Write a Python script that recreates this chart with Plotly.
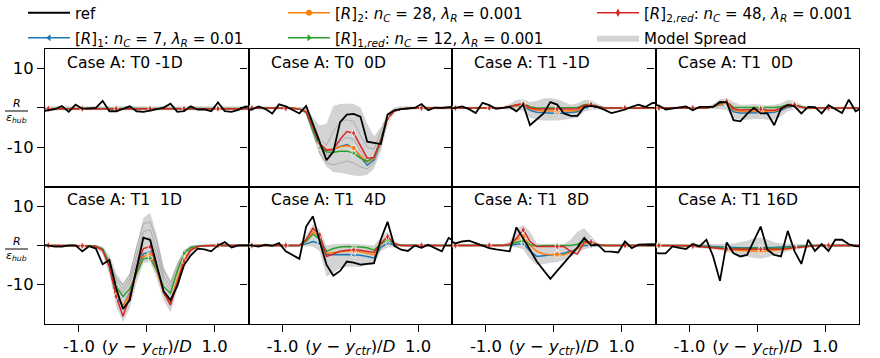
import plotly.graph_objects as go
from plotly.subplots import make_subplots

# ---------------- data ----------------
X = [-1.55, -1.45, -1.35, -1.25, -1.15, -1.05, -0.95, -0.85, -0.75, -0.65, -0.55, -0.45, -0.35, -0.25, -0.15, -0.05,
     0.05, 0.15, 0.25, 0.35, 0.45, 0.55, 0.65, 0.75, 0.85, 0.95, 1.05, 1.15, 1.25, 1.35, 1.45, 1.55]

TITLES = ["Case A: T0 -1D", "Case A: T0\u00a0\u00a00D", "Case A: T1 -1D", "Case A: T1\u00a0\u00a00D",
          "Case A: T1\u00a0\u00a01D", "Case A: T1\u00a0\u00a04D", "Case A: T1\u00a0\u00a08D", "Case A: T1 16D"]

X_TICKS = [-1.0, 0.0, 1.0]
X_TICKTEXT = ["-1.0", "(<i>y</i> \u2212 <i>y</i><sub><i>ctr</i></sub>)/<i>D</i>", "1.0"]
Y_TICKS = [-10, 0, 10]
Y_TICKTEXT = ["-10", "", "10"]

SERIES_NAMES = ["ref",
                "[<i>R</i>]<sub>1</sub>: <i>n<sub>C</sub></i> = 7, <i>\u03bb<sub>R</sub></i> = 0.01",
                "[<i>R</i>]<sub>2</sub>: <i>n<sub>C</sub></i> = 28, <i>\u03bb<sub>R</sub></i> = 0.001",
                "[<i>R</i>]<sub>1,<i>red</i></sub>: <i>n<sub>C</sub></i> = 12, <i>\u03bb<sub>R</sub></i> = 0.001",
                "[<i>R</i>]<sub>2,<i>red</i></sub>: <i>n<sub>C</sub></i> = 48, <i>\u03bb<sub>R</sub></i> = 0.001",
                "Model Spread"]

# Panel 1: T0 -1D
ref_1 = [-0.9, -0.6, -0.3, 0.5, -1.0, 0.85, -0.2, -0.1, 0.0, 1.8, -0.85, -0.85, -0.3, 0.4, -0.85, -1.0, -0.7, -0.3, 0.1, 1.1, -1.0, -0.8, 0.4, -0.4, -0.4, -0.85, 1.4, -0.8, -1.0, -0.5, 0.3, 0.5]
blue_1 = [-0.2, -0.2, -0.2, -0.2, -0.2, -0.2, -0.2, -0.2, -0.2, -0.2, -0.2, -0.2, -0.2, -0.2, -0.2, -0.2, -0.2, -0.2, -0.2, -0.2, -0.2, -0.2, -0.2, -0.2, -0.2, -0.2, -0.2, -0.2, -0.2, -0.2, -0.2, -0.2]
orange_1 = [-0.2, -0.2, -0.2, -0.2, -0.2, -0.2, -0.2, -0.2, -0.2, -0.2, -0.2, -0.2, -0.2, -0.2, -0.2, -0.2, -0.2, -0.2, -0.2, -0.2, -0.2, -0.2, -0.2, -0.2, -0.2, -0.2, -0.2, -0.2, -0.2, -0.2, -0.2, -0.2]
green_1 = [-0.15, -0.15, -0.15, -0.15, -0.15, -0.15, -0.15, -0.15, -0.15, -0.15, -0.15, -0.15, -0.15, -0.15, -0.15, -0.15, -0.15, -0.15, -0.15, -0.15, -0.15, -0.15, -0.15, -0.15, -0.15, -0.15, -0.15, -0.15, -0.15, -0.15, -0.15, -0.15]
red_1 = [-0.2, -0.2, -0.2, -0.2, -0.2, -0.2, -0.2, -0.2, -0.2, -0.2, -0.2, -0.2, -0.2, -0.2, -0.2, -0.2, -0.2, -0.2, -0.2, -0.2, -0.2, -0.2, -0.2, -0.2, -0.2, -0.2, -0.2, -0.2, -0.2, -0.2, -0.2, -0.2]
hi_1 = [0.4, 0.4, 0.4, 0.4, 0.4, 0.4, 0.4, 0.4, 0.4, 0.4, 0.4, 0.4, 0.4, 0.4, 0.4, 0.4, 0.4, 0.4, 0.4, 0.4, 0.4, 0.4, 0.4, 0.4, 0.4, 0.4, 0.4, 0.4, 0.4, 0.4, 0.4, 0.4]
lo_1 = [-0.6, -0.6, -0.6, -0.6, -0.6, -0.6, -0.6, -0.6, -0.6, -0.6, -0.6, -0.6, -0.6, -0.6, -0.6, -0.6, -0.6, -0.6, -0.6, -0.6, -0.6, -0.6, -0.6, -0.6, -0.6, -0.6, -0.6, -0.6, -0.6, -0.6, -0.6, -0.6]

# Panel 2: T0 0D
ref_2 = [-0.5, -0.4, 0.4, -0.3, -1.4, 0.9, 0.4, -0.6, -1.4, 0.5, -4.1, -8.7, -13.3, -11.2, -3.6, -1.7, -1.5, -2.2, -8.6, -8.9, -9.2, -1.7, -0.6, -0.3, -0.2, 0.0, 1.0, -0.6, 0.1, 0.0, 0.2, 0.3]
blue_2 = [0.0, 0.0, 0.0, 0.0, 0.0, 0.0, -0.1, -0.1, -0.3, -1.0, -5.5, -9.6, -10.8, -10.6, -9.8, -9.3, -10.3, -12.5, -14.6, -13.2, -8.5, -2.5, -0.8, -0.3, -0.1, 0.0, 0.0, 0.0, 0.0, 0.0, 0.0, 0.0]
orange_2 = [0.0, 0.0, 0.0, 0.0, 0.0, 0.0, -0.1, -0.1, -0.3, -1.0, -5.3, -9.4, -10.6, -10.5, -9.9, -9.6, -10.2, -12.2, -13.8, -12.8, -8.3, -2.6, -0.8, -0.3, -0.1, 0.0, 0.0, 0.0, 0.0, 0.0, 0.0, 0.0]
green_2 = [0.0, 0.0, 0.0, 0.0, 0.0, 0.0, -0.1, -0.1, -0.3, -1.1, -5.8, -10.0, -11.2, -11.3, -11.0, -11.0, -11.5, -12.8, -13.6, -12.5, -8.0, -2.4, -0.7, -0.3, -0.1, 0.0, 0.0, 0.0, 0.0, 0.0, 0.0, 0.0]
red_2 = [0.0, 0.0, 0.0, 0.0, 0.0, 0.0, -0.1, -0.1, -0.3, -1.0, -5.0, -9.0, -10.8, -10.5, -8.0, -6.0, -6.4, -9.5, -12.8, -12.6, -8.3, -2.7, -0.8, -0.3, -0.1, 0.0, 0.0, 0.0, 0.0, 0.0, 0.0, 0.0]
hi_2 = [0.4, 0.4, 0.4, 0.4, 0.4, 0.4, 0.4, 0.4, 0.3, 0.0, -2.5, -4.5, -4.0, 0.5, 1.0, 1.1, 1.0, 0.2, -4.0, -7.2, -5.0, -1.3, 0.2, 0.4, 0.4, 0.4, 0.4, 0.4, 0.4, 0.4, 0.4, 0.4]
lo_2 = [-0.4, -0.4, -0.4, -0.4, -0.4, -0.4, -0.4, -0.4, -0.4, -1.8, -7.0, -12.0, -15.0, -16.3, -16.5, -16.8, -17.2, -17.3, -17.0, -15.5, -11.0, -4.5, -1.2, -0.4, -0.4, -0.4, -0.4, -0.4, -0.4, -0.4, -0.4, -0.4]
mem_2a = [0, 0, 0, 0, 0, 0, 0, -0.1, -0.2, -0.8, -4.5, -8.0, -9.5, -6.0, -3.5, -3.0, -3.5, -7.0, -10.0, -10.5, -6.0, -2.0, -0.5, -0.2, 0, 0, 0, 0, 0, 0, 0, 0]
mem_2b = [0, 0, 0, 0, 0, 0, 0, -0.1, -0.2, -1.0, -5.5, -10.0, -12.0, -11.5, -8.5, -7.5, -8.0, -11.0, -13.5, -12.5, -8.0, -2.5, -0.6, -0.2, 0, 0, 0, 0, 0, 0, 0, 0]
mem_2c = [0, 0, 0, 0, 0, 0, 0, -0.1, -0.2, -1.2, -6.5, -11.5, -14.0, -14.5, -14.0, -13.5, -14.0, -15.0, -15.5, -14.0, -9.5, -3.0, -0.8, -0.2, 0, 0, 0, 0, 0, 0, 0, 0]

# Panel 3: T1 -1D
ref_3 = [-0.1, 0.0, 0.4, -0.3, -1.3, 1.3, 0.7, -0.2, 0.0, 0.25, -0.85, 0.85, -4.4, -2.8, -1.4, 1.5, 0.85, -1.4, -2.0, -2.0, 0.25, 0.5, 0.2, -0.5, -1.3, -0.9, -0.4, 0.3, 0.85, 0.25, 1.2, 1.4]
blue_3 = [0, 0, 0, 0, 0, 0, 0, 0, 0, 0.2, 0.5, 0.6, -0.6, -1.1, -1.2, -1.3, -1.4, -1.3, -1.2, -1.0, 0.0, 0.3, 0.2, 0, 0, 0, 0, 0, 0, 0, 0, 0]
orange_3 = [0, 0, 0, 0, 0, 0, 0, 0, 0, 0.3, 0.6, 0.8, -0.2, -0.6, -0.8, -0.8, -0.9, -0.8, -0.8, -0.6, 0.3, 0.6, 0.3, 0, 0, 0, 0, 0, 0, 0, 0, 0]
green_3 = [0, 0, 0, 0, 0, 0, 0, 0, 0, 0.4, 0.8, 1.1, 0.3, 0.0, 0.0, 0.0, 0.1, 0.0, 0.0, 0.1, 0.8, 1.0, 0.4, 0, 0, 0, 0, 0, 0, 0, 0, 0]
red_3 = [0, 0, 0, 0, 0, 0, 0, 0, 0, 0.4, 0.8, 1.0, 0.0, -0.3, -0.3, -0.4, -0.3, -0.4, -0.3, -0.2, 0.7, 0.9, 0.3, 0, 0, 0, 0, 0, 0, 0, 0, 0]
hi_3 = [0.3, 0.3, 0.3, 0.3, 0.3, 0.3, 0.3, 0.3, 0.3, 1.0, 2.0, 2.2, 1.5, 1.8, 2.4, 2.5, 2.2, 1.5, 0.8, 1.2, 2.0, 2.0, 1.0, 0.3, 0.3, 0.3, 0.3, 0.3, 0.3, 0.3, 0.3, 0.3]
lo_3 = [-0.3, -0.3, -0.3, -0.3, -0.3, -0.3, -0.3, -0.3, -0.3, -0.5, -0.4, -0.8, -2.5, -3.0, -3.2, -3.2, -3.2, -3.0, -2.8, -2.5, -1.0, -0.5, -0.4, -0.3, -0.3, -0.3, -0.3, -0.3, -0.3, -0.3, -0.3, -0.3]

# Panel 4: T1 0D
ref_4 = [0.9, 0.6, -0.4, -0.1, 0.2, 0.4, -0.6, 0.25, 0.25, 0.25, 1.5, 1.4, -3.1, -3.4, -1.5, 0.0, -1.4, -1.4, -4.4, -0.2, 0.7, 0.4, -1.4, 0.25, 0.2, -1.4, 0.7, -0.3, -1.3, 2.1, -0.85, 0.0]
blue_4 = [0, 0, 0, 0, 0, 0, 0, 0, 0, 0.3, 0.8, 0.9, -1.0, -1.3, -1.3, -1.2, -1.2, -1.2, -1.1, -0.6, 0.2, 0.5, 0.2, 0, 0, 0, 0, 0, 0, 0, 0, 0]
orange_4 = [0, 0, 0, 0, 0, 0, 0, 0, 0, 0.3, 0.9, 1.2, -0.5, -0.9, -0.9, -0.8, -0.8, -0.9, -0.8, -0.3, 0.4, 0.6, 0.2, 0, 0, 0, 0, 0, 0, 0, 0, 0]
green_4 = [0, 0, 0, 0, 0, 0, 0, 0, 0, 0.4, 1.2, 1.5, 0.2, 0.1, 0.1, 0.2, 0.2, 0.1, 0.1, 0.3, 0.9, 0.9, 0.3, 0, 0, 0, 0, 0, 0, 0, 0, 0]
red_4 = [0, 0, 0, 0, 0, 0, 0, 0, 0, 0.4, 1.3, 1.7, -0.2, -0.5, -0.5, -0.4, -0.3, -0.6, -0.6, -0.1, 0.8, 0.8, 0.2, 0, 0, 0, 0, 0, 0, 0, 0, 0]
hi_4 = [0.3, 0.3, 0.3, 0.3, 0.3, 0.3, 0.3, 0.3, 0.3, 1.0, 2.2, 2.5, 1.5, 0.8, 0.8, 1.0, 0.8, 0.6, 0.8, 1.2, 2.0, 1.8, 0.8, 0.3, 0.3, 0.3, 0.3, 0.3, 0.3, 0.3, 0.3, 0.3]
lo_4 = [-0.3, -0.3, -0.3, -0.3, -0.3, -0.3, -0.3, -0.3, -0.3, -0.3, -0.3, -0.5, -2.6, -3.0, -3.0, -2.8, -2.8, -3.0, -3.0, -2.2, -0.8, -0.4, -0.3, -0.3, -0.3, -0.3, -0.3, -0.3, -0.3, -0.3, -0.3, -0.3]

# Panel 5: T1 1D
ref_5 = [0.2, 0.0, -0.3, -0.3, 0.0, 0.0, -1.5, -0.2, -0.8, -4.8, -3.7, -11.0, -16.2, -13.9, -6.0, 2.0, 1.4, -5.1, -11.7, -13.9, -10.3, -5.0, -2.5, -0.8, -1.0, -1.5, 0.0, 0.85, -0.5, 0.0, 0.0, 0.0]
blue_5 = [0, 0, 0, 0, 0, 0, -0.1, -0.2, -0.3, -1.2, -5.5, -12.8, -15.5, -12.0, -6.5, -2.2, -1.6, -6.0, -12.0, -14.8, -9.0, -3.5, -1.0, -0.3, -0.1, 0, 0, 0, 0, 0, 0, 0]
orange_5 = [0, 0, 0, 0, 0, 0, -0.1, -0.2, -0.3, -1.1, -5.0, -12.0, -15.5, -12.3, -7.0, -2.8, -2.4, -6.5, -12.0, -14.5, -8.5, -3.5, -1.0, -0.3, -0.1, 0, 0, 0, 0, 0, 0, 0]
green_5 = [0, 0, 0, 0, 0, 0, -0.1, -0.1, -0.2, -0.9, -4.5, -10.5, -13.0, -11.0, -7.2, -3.4, -3.2, -6.5, -10.5, -12.2, -6.5, -2.0, -0.5, -0.2, -0.1, 0, 0, 0, 0, 0, 0, 0]
red_5 = [0, 0, 0, 0, 0, 0, -0.1, -0.2, -0.3, -1.2, -5.5, -13.0, -18.0, -13.0, -5.5, -0.8, -0.3, -5.5, -12.0, -15.2, -9.5, -4.0, -1.2, -0.3, -0.1, 0, 0, 0, 0, 0, 0, 0]
hi_5 = [0.3, 0.3, 0.3, 0.3, 0.3, 0.3, 0.3, 0.3, 0.2, -0.3, -2.5, -7.0, -9.6, -7.0, 0.0, 7.0, 8.3, 2.5, -5.5, -8.8, -4.5, -1.2, 0.0, 0.2, 0.3, 0.3, 0.3, 0.3, 0.3, 0.3, 0.3, 0.3]
lo_5 = [-0.3, -0.3, -0.3, -0.3, -0.3, -0.3, -0.3, -0.3, -0.6, -2.2, -7.5, -15.5, -19.5, -16.0, -9.5, -4.5, -4.2, -8.5, -14.0, -17.0, -11.5, -5.5, -2.0, -0.6, -0.3, -0.3, -0.3, -0.3, -0.3, -0.3, -0.3, -0.3]
mem_5a = [0, 0, 0, 0, 0, 0, 0, -0.1, -0.2, -0.8, -4.0, -8.5, -10.0, -7.5, -0.5, 5.5, 6.0, 1.0, -6.5, -9.5, -5.0, -1.5, -0.3, -0.1, 0, 0, 0, 0, 0, 0, 0, 0]
mem_5b = [0, 0, 0, 0, 0, 0, 0, -0.1, -0.2, -0.9, -4.3, -9.0, -11.0, -8.5, -2.5, 3.5, 4.0, -1.0, -8.0, -10.5, -6.0, -1.8, -0.4, -0.1, 0, 0, 0, 0, 0, 0, 0, 0]
mem_5c = [0, 0, 0, 0, 0, 0, 0, -0.1, -0.2, -1.0, -4.6, -9.8, -12.0, -9.5, -4.0, 1.5, 2.0, -2.5, -9.0, -11.5, -7.0, -2.2, -0.5, -0.1, 0, 0, 0, 0, 0, 0, 0, 0]

# Panel 6: T1 4D
ref_6 = [0.0, 0.0, -0.3, 0.2, -0.1, 0.6, -1.5, -2.5, -3.4, 4.8, 7.4, 1.0, -4.9, -7.7, -6.5, -4.1, -4.4, -4.9, -4.7, -4.5, 1.5, 6.0, -0.1, -1.1, -1.4, 0.0, -0.6, 0.2, -0.7, -1.5, 1.9, 1.0]
blue_6 = [0, 0, 0, 0, 0, 0, 0, 0, 0, 0.4, 1.0, 0.5, -2.4, -2.4, -2.3, -2.3, -2.4, -2.5, -2.8, -3.2, -0.5, 0.6, 0.1, 0, 0, 0, 0, 0, 0, 0, 0, 0]
orange_6 = [0, 0, 0, 0, 0, 0, 0, 0, 0, 1.2, 3.6, 2.0, -2.0, -1.8, -1.6, -1.5, -1.5, -1.6, -2.0, -2.4, 0.2, 1.7, 0.3, 0, 0, 0, 0, 0, 0, 0, 0, 0]
green_6 = [0, 0, 0, 0, 0, 0, 0, 0, 0, 1.0, 2.9, 1.5, -1.5, -0.8, -0.4, -0.3, -0.3, -0.4, -0.6, -1.2, 0.4, 1.4, 0.4, 0, 0, 0, 0, 0, 0, 0, 0, 0]
red_6 = [0, 0, 0, 0, 0, 0, 0, 0, 0, 1.5, 4.4, 2.7, -2.8, -2.2, -1.5, -1.2, -1.1, -1.2, -1.5, -1.8, 0.5, 2.3, 0.5, 0, 0, 0, 0, 0, 0, 0, 0, 0]
hi_6 = [0.3, 0.3, 0.3, 0.3, 0.3, 0.3, 0.3, 0.3, 0.3, 2.5, 5.3, 4.0, 0.0, 0.3, 0.4, 0.4, 0.4, 0.3, 0.2, 0.0, 2.0, 3.6, 1.2, 0.3, 0.3, 0.3, 0.3, 0.3, 0.3, 0.3, 0.3, 0.3]
lo_6 = [-0.3, -0.3, -0.3, -0.3, -0.3, -0.3, -0.3, -0.3, -0.3, -0.2, -0.3, -1.5, -7.9, -7.0, -5.8, -5.4, -5.4, -5.5, -5.0, -4.9, -1.5, -0.5, -0.3, -0.3, -0.3, -0.3, -0.3, -0.3, -0.3, -0.3, -0.3, -0.3]

# Panel 7: T1 8D
ref_7 = [1.5, 0.5, 1.0, 1.2, 0.6, 0.0, -0.7, -1.0, -1.3, -1.5, 4.6, 1.9, -1.1, -4.1, -6.3, -8.5, -6.5, -4.5, -2.5, -0.5, 1.9, 0.0, 0.2, -1.5, -1.6, -1.8, 1.0, -0.7, 0.2, 0.3, 0.3, 0.2]
blue_7 = [0, 0, 0, 0, 0, 0, 0, 0, 0, 0.0, 0.3, 0.5, -1.5, -2.8, -2.6, -2.4, -2.2, -2.0, -1.5, -0.8, 0.0, 0.0, 0.0, 0, 0, 0, 0, 0, 0, 0, 0, 0]
orange_7 = [0, 0, 0, 0, 0, 0, 0, 0, 0, 0.2, 1.5, 2.3, 0.0, -1.5, -2.2, -2.4, -2.3, -2.4, -1.8, -0.8, 0.5, 0.5, 0.1, 0, 0, 0, 0, 0, 0, 0, 0, 0]
green_7 = [0, 0, 0, 0, 0, 0, 0, 0, 0, 0.1, 0.8, 1.2, 0.2, -0.2, 0.0, 0.0, 0.0, 0.0, 0.0, 0.3, 1.2, 0.6, 0.1, 0, 0, 0, 0, 0, 0, 0, 0, 0]
red_7 = [0, 0, 0, 0, 0, 0, 0, 0, 0, 0.3, 1.8, 4.0, 1.0, -0.3, -0.3, -0.3, -0.3, -0.3, -1.5, -2.2, 0.9, 1.0, 0.2, 0, 0, 0, 0, 0, 0, 0, 0, 0]
hi_7 = [0.3, 0.3, 0.3, 0.3, 0.3, 0.3, 0.3, 0.3, 0.3, 1.0, 4.0, 5.3, 3.5, 0.5, 0.3, 0.3, 0.3, 0.3, 1.5, 3.5, 4.4, 2.5, 0.5, 0.3, 0.3, 0.3, 0.3, 0.3, 0.3, 0.3, 0.3, 0.3]
lo_7 = [-0.3, -0.3, -0.3, -0.3, -0.3, -0.3, -0.3, -0.3, -0.3, -0.3, -0.5, -1.0, -3.5, -5.0, -4.8, -4.5, -4.2, -3.8, -3.0, -2.0, -1.0, -0.5, -0.3, -0.3, -0.3, -0.3, -0.3, -0.3, -0.3, -0.3, -0.3, -0.3]

# Panel 8: T1 16D
ref_8 = [-1.8, -2.0, -2.0, -0.25, -0.6, -0.9, 0.35, -0.25, 1.45, -2.8, -9.0, 0.75, -2.0, -2.8, -2.4, 1.2, 4.8, -1.1, -2.4, -2.8, 3.7, -1.5, -4.7, 1.45, -1.4, 0.35, -1.4, 1.45, 1.45, 0.3, -0.2, -0.3]
blue_8 = [0, 0, 0, 0, 0, 0, 0.0, -0.1, -0.2, -0.3, -0.4, -0.5, -0.6, -0.6, -0.6, -0.6, -0.6, -0.6, -0.5, -0.4, -0.3, -0.2, -0.1, 0, 0, 0, 0, 0, 0, 0, 0, 0]
orange_8 = [0, 0, 0, 0, 0, 0, 0, -0.2, -0.4, -0.6, -0.9, -1.1, -1.2, -1.3, -1.4, -1.5, -1.5, -1.4, -1.3, -1.1, -0.9, -0.6, -0.4, -0.2, 0, 0, 0, 0, 0, 0, 0, 0]
green_8 = [0, 0, 0, 0, 0, 0, 0, -0.1, -0.3, -0.5, -0.7, -0.8, -0.8, -0.8, -0.8, -0.8, -0.8, -0.8, -0.8, -0.7, -0.6, -0.4, -0.2, -0.1, 0, 0, 0, 0, 0, 0, 0, 0]
red_8 = [0, 0, 0, 0, 0, -0.1, -0.2, -0.3, -0.4, -0.6, -0.8, -0.9, -1.0, -1.0, -1.0, -1.0, -1.0, -1.0, -1.0, -0.9, -0.8, -0.6, -0.4, -0.2, -0.1, 0, 0, 0, 0, 0, 0, 0]
hi_8 = [0.3, 0.3, 0.3, 0.3, 0.3, 0.3, 0.3, 0.3, 0.3, 0.3, 0.3, 0.4, 0.5, 0.8, 1.2, 1.8, 2.0, 1.5, 0.8, 0.5, 0.4, 0.3, 0.3, 0.3, 0.3, 0.3, 0.3, 0.3, 0.3, 0.3, 0.3, 0.3]
lo_8 = [-0.3, -0.3, -0.3, -0.3, -0.3, -0.4, -0.5, -0.6, -0.8, -1.0, -1.2, -1.5, -2.0, -2.4, -2.8, -3.2, -3.3, -3.0, -2.5, -2.0, -1.5, -1.1, -0.8, -0.6, -0.4, -0.3, -0.3, -0.3, -0.3, -0.3, -0.3, -0.3]

# ---------------- assembly ----------------
PANELS = [
    dict(ref=ref_1, models=[blue_1, orange_1, green_1, red_1], hi=hi_1, lo=lo_1, members=[]),
    dict(ref=ref_2, models=[blue_2, orange_2, green_2, red_2], hi=hi_2, lo=lo_2, members=[mem_2a, mem_2b, mem_2c]),
    dict(ref=ref_3, models=[blue_3, orange_3, green_3, red_3], hi=hi_3, lo=lo_3, members=[]),
    dict(ref=ref_4, models=[blue_4, orange_4, green_4, red_4], hi=hi_4, lo=lo_4, members=[]),
    dict(ref=ref_5, models=[blue_5, orange_5, green_5, red_5], hi=hi_5, lo=lo_5, members=[mem_5a, mem_5b, mem_5c]),
    dict(ref=ref_6, models=[blue_6, orange_6, green_6, red_6], hi=hi_6, lo=lo_6, members=[]),
    dict(ref=ref_7, models=[blue_7, orange_7, green_7, red_7], hi=hi_7, lo=lo_7, members=[]),
    dict(ref=ref_8, models=[blue_8, orange_8, green_8, red_8], hi=hi_8, lo=lo_8, members=[]),
]
for p in PANELS:
    for arr in [p["ref"], p["hi"], p["lo"]] + p["models"] + p["members"]:
        assert len(arr) == len(X), len(arr)

MODEL_COLORS = ["#1f77b4", "#ff7f0e", "#2ca02c", "#d62728"]
MODEL_SYMBOLS = ["triangle-left", "circle", "triangle-right", "diamond-tall"]
FONT = "DejaVu Sans"

marker_sizes = [6 if i % 5 == 1 else 0 for i in range(len(X))]

fig = make_subplots(rows=2, cols=4, horizontal_spacing=0, vertical_spacing=0)

for k, p in enumerate(PANELS):
    r, c = k // 4 + 1, k % 4 + 1
    fig.add_trace(go.Scatter(
        x=X + X[::-1], y=p["hi"] + p["lo"][::-1], fill="toself", fillcolor="#d3d3d3",
        line=dict(width=0, color="#d3d3d3"), mode="lines", name=SERIES_NAMES[5],
        showlegend=(k == 0), legend="legend6", hoverinfo="skip"), row=r, col=c)
    for m in p["members"]:
        fig.add_trace(go.Scatter(x=X, y=m, mode="lines", line=dict(color="rgba(140,140,140,0.55)", width=1),
                                 showlegend=False, hoverinfo="skip"), row=r, col=c)
    for j, m in enumerate(p["models"]):
        fig.add_trace(go.Scatter(
            x=X, y=m, mode="lines+markers",
            line=dict(color=MODEL_COLORS[j], width=1.5),
            marker=dict(symbol=MODEL_SYMBOLS[j], size=marker_sizes, color=MODEL_COLORS[j]),
            showlegend=False), row=r, col=c)
    fig.add_trace(go.Scatter(x=X, y=p["ref"], mode="lines", line=dict(color="black", width=1.8),
                             showlegend=False), row=r, col=c)

# legend entries: one legend box per entry, laid out like the 3-column reference legend
fig.add_trace(go.Scatter(x=[None], y=[None], mode="lines", line=dict(color="black", width=1.8),
                         name=SERIES_NAMES[0], legend="legend"))
for j, lg in enumerate(["legend2", "legend3", "legend4", "legend5"]):
    fig.add_trace(go.Scatter(x=[None], y=[None], mode="lines+markers",
                             line=dict(color=MODEL_COLORS[j], width=1.5),
                             marker=dict(symbol=MODEL_SYMBOLS[j], size=6, color=MODEL_COLORS[j]),
                             name=SERIES_NAMES[j + 1], legend=lg))

axis_common = dict(showline=True, linecolor="black", linewidth=1.2, mirror=True, showgrid=False,
                   zeroline=False, ticklen=7, tickwidth=1.2, tickcolor="black",
                   tickfont=dict(family=FONT, size=16.4, color="black"))
for k in range(8):
    r, c = k // 4 + 1, k % 4 + 1
    fig.update_xaxes(range=[-1.5, 1.5], tickvals=X_TICKS, ticktext=X_TICKTEXT,
                     ticks=("outside" if r == 2 else ""),
                     showticklabels=(r == 2), **axis_common, row=r, col=c)
    fig.update_yaxes(range=[-20, 15], tickvals=Y_TICKS, ticktext=Y_TICKTEXT, ticks="outside",
                     showticklabels=(c == 1), **axis_common, row=r, col=c)

# panel titles
for k in range(8):
    ax = "" if k == 0 else str(k + 1)
    fig.add_annotation(x=0.1, y=0.9, xref=f"x{ax} domain", yref=f"y{ax} domain", text=TITLES[k],
                       showarrow=False, xanchor="left", yanchor="middle",
                       font=dict(family=FONT, size=15.6, color="black"))

# y-label fraction R / eps_hub at the zero tick (left column)
W, H, L, R, T, B = 880, 358, 45, 21, 49, 34
PW, PH = W - L - R, H - T - B
def px_to_paper(px, py):
    return (px - L) / PW, (H - B - py) / PH
for zero_py in [107.7, 245.7]:
    xc, yb = px_to_paper(16.5, zero_py + 3.3)
    _, yr = px_to_paper(16.5, zero_py - 4.5)
    _, ye = px_to_paper(16.5, zero_py + 10.5)
    x0, _ = px_to_paper(5, 0)
    x1, _ = px_to_paper(28, 0)
    fig.add_annotation(x=xc, y=yr, xref="paper", yref="paper", text="<i>R</i>", showarrow=False,
                       xanchor="center", yanchor="middle", font=dict(family=FONT, size=11, color="black"))
    fig.add_annotation(x=xc, y=ye, xref="paper", yref="paper", text="<i>\u03b5<sub>hub</sub></i>",
                       showarrow=False, xanchor="center", yanchor="middle",
                       font=dict(family=FONT, size=11, color="black"))
    fig.add_shape(type="line", xref="paper", yref="paper", x0=x0, x1=x1, y0=yb, y1=yb,
                  line=dict(color="black", width=1))

leg_common = dict(orientation="v", yanchor="middle", xanchor="left", bgcolor="rgba(0,0,0,0)",
                  itemwidth=42, font=dict(family=FONT, size=15, color="black"))
row1_y = px_to_paper(0, 13)[1]
row2_y = px_to_paper(0, 38)[1]
col_x = [px_to_paper(23, 0)[0], px_to_paper(283, 0)[0], px_to_paper(592, 0)[0]]
fig.update_layout(
    width=W, height=H, margin=dict(l=L, r=R, t=T, b=B, autoexpand=False),
    paper_bgcolor="white", plot_bgcolor="white",
    font=dict(family=FONT, color="black"),
    legend=dict(x=col_x[0], y=row1_y, **leg_common),
    legend2=dict(x=col_x[0], y=row2_y, **leg_common),
    legend3=dict(x=col_x[1], y=row1_y, **leg_common),
    legend4=dict(x=col_x[1], y=row2_y, **leg_common),
    legend5=dict(x=col_x[2], y=row1_y, **leg_common),
    legend6=dict(x=col_x[2], y=row2_y, **leg_common),
)

fig.write_html("out.html", config={"displayModeBar": False},
               post_script="document.body.style.margin='0';document.body.style.overflow='hidden';")
